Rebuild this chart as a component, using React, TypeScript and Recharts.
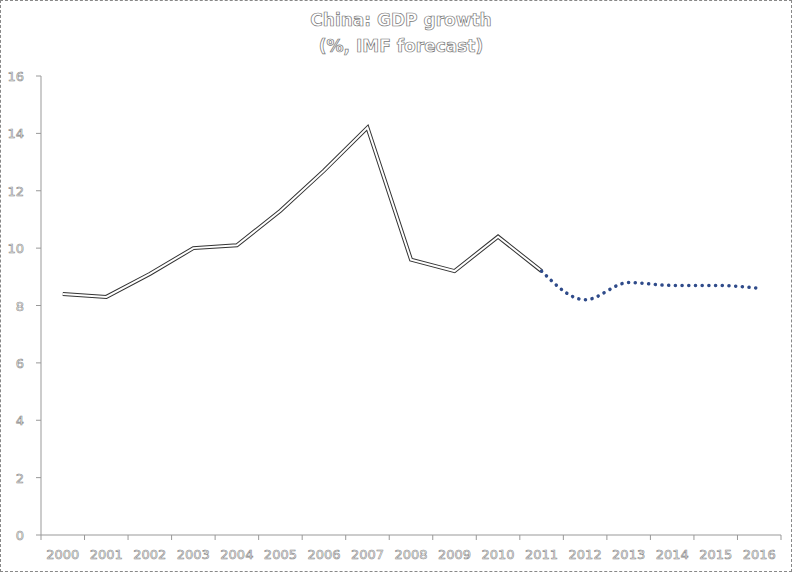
import { LineChart, Line, XAxis, YAxis } from "recharts";

const years = ["2000", "2001", "2002", "2003", "2004", "2005", "2006", "2007", "2008", "2009", "2010", "2011", "2012", "2013", "2014", "2015", "2016"];
const actual = [8.4, 8.3, 9.1, 10.0, 10.1, 11.3, 12.7, 14.2, 9.6, 9.2, 10.4, 9.2, null, null, null, null, null];
const forecast = [null, null, null, null, null, null, null, null, null, null, null, 9.2, 8.2, 8.8, 8.7, 8.7, 8.6];
const yTicks = [0, 2, 4, 6, 8, 10, 12, 14, 16];

const data = years.map((year, i) => ({ year, actual: actual[i], forecast: forecast[i] }));

const FONT = "'DejaVu Sans', Verdana, sans-serif";
const BAND = 740 / years.length;

const XTick = (props: any) => {
  const { x, y, payload } = props;
  return (
    <g>
      <line x1={x - BAND / 2} x2={x - BAND / 2} y1={y - 8} y2={y - 3} stroke="#999" />
      {payload.index === years.length - 1 && (
        <line x1={x + BAND / 2} x2={x + BAND / 2} y1={y - 8} y2={y - 3} stroke="#999" />
      )}
      <text x={x} y={y + 16} textAnchor="middle" fontFamily={FONT} fontSize={13} fill="#fff" stroke="#888" strokeWidth={0.6}>
        {payload.value}
      </text>
    </g>
  );
};

const YTick = (props: any) => {
  const { x, y, payload } = props;
  return (
    <text x={x - 10} y={y + 5} textAnchor="end" fontFamily={FONT} fontSize={13} fill="#fff" stroke="#888" strokeWidth={0.6}>
      {payload.value}
    </text>
  );
};

export default function App() {
  return (
    <div style={{ position: "absolute", left: 0, top: 0, width: 790, height: 570, border: "1px dashed #888", background: "#fff" }}>
      <svg width={790} height={60} style={{ position: "absolute", left: 0, top: 0 }}>
        <text x={400} y={25} textAnchor="middle" fontFamily={FONT} fontSize={17} fontWeight="bold" fill="#fff" stroke="#777" strokeWidth={0.7}>
          China: GDP growth
        </text>
        <text x={400} y={51} textAnchor="middle" fontFamily={FONT} fontSize={17} fontWeight="bold" fill="#fff" stroke="#777" strokeWidth={0.7}>
          (%, IMF forecast)
        </text>
      </svg>
      <div style={{ position: "absolute", left: 0, top: 0 }}>
        <LineChart width={790} height={571} data={data} margin={{ top: 75, right: 10, bottom: 0, left: 0 }}>
          <XAxis dataKey="year" height={37} stroke="#999" tickLine={false} tick={<XTick />} interval={0} padding={{ left: BAND / 2, right: BAND / 2 }} />
          <YAxis width={40} domain={[0, 16]} ticks={yTicks} stroke="#999" tickSize={5} tick={<YTick />} />
          <Line type="linear" dataKey="actual" stroke="#333" strokeWidth={4} dot={false} isAnimationActive={false} connectNulls={false} />
          <Line type="linear" dataKey="actual" stroke="#fff" strokeWidth={2} dot={false} isAnimationActive={false} connectNulls={false} />
          <Line type="monotone" dataKey="forecast" stroke="#2f4b8a" strokeWidth={3.5} strokeDasharray="0.1 6.6" strokeLinecap="round" dot={false} isAnimationActive={false} />
        </LineChart>
      </div>
    </div>
  );
}
